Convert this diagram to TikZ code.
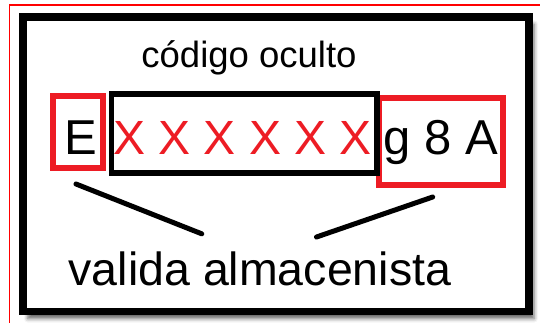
\documentclass[tikz,border=0pt]{standalone}
\usepackage{fontspec}
\setmainfont{Liberation Sans}
\usetikzlibrary{shadows.blur}
\definecolor{mred}{HTML}{ED1C24}
\tikzset{
  frame/.style={draw=black, line width=7.5pt, fill=white, inner sep=0pt, outer sep=0pt,
    blur shadow={shadow xshift=5pt, shadow yshift=-7pt, shadow blur radius=4pt, shadow opacity=60}},
  redbox/.style={draw=mred, line width=6pt, inner sep=0pt, outer sep=0pt},
  blackbox/.style={draw=black, line width=5.5pt, inner sep=0pt, outer sep=0pt},
  bigtxt/.style={anchor=base, inner sep=0pt, font=\fontsize{49}{49}\selectfont},
  stroke/.style={line width=5pt, line cap=round, draw=black},
}
\begin{document}
\begin{tikzpicture}[x=1pt, y=-1pt]
\useasboundingbox (0,0) rectangle (540,322);
% outer thin red frame
\coordinate (rf1) at (9.6,330);
\coordinate (rf2) at (9.6,4.8);
\coordinate (rf3) at (545,4.8);
\draw[red, line width=1.5pt] (rf1) -- (rf2) -- (rf3);
% main frame
\node[frame, minimum width=506.1pt, minimum height=294.4pt] (frame) at (275.95,164.4) {};
% boxes
\node[redbox, minimum width=124.5pt, minimum height=86.5pt] (gbox) at (440.75,141.25) {};
\node[blackbox, minimum width=265.4pt, minimum height=79pt] (xbox) at (244.3,133.5) {};
\node[redbox, minimum width=50pt, minimum height=72.3pt] (ebox) at (78,131.85) {};
% texts
\node[anchor=base, inner sep=0pt, font=\fontsize{36.5}{36.5}\selectfont] (title) at (249,67) {código oculto};
\node[bigtxt] (e) at (81,154) {E};
\node[bigtxt, text=mred, font=\fontsize{48}{48}\selectfont] (xs) at (242.5,154) {X X X X X X};
\node[bigtxt] (g8a) at (441,154) {g 8 A};
\node[anchor=base, inner sep=0pt, font=\fontsize{46.5}{46.5}\selectfont] (valida) at (260,285.5) {valida almacenista};
% connector strokes
\coordinate (l1a) at (76,184);
\coordinate (l1b) at (201.7,233.8);
\coordinate (l2a) at (432.7,197);
\coordinate (l2b) at (316.5,237);
\draw[stroke] (l1a) -- (l1b);
\draw[stroke] (l2a) -- (l2b);
\end{tikzpicture}
\end{document}
